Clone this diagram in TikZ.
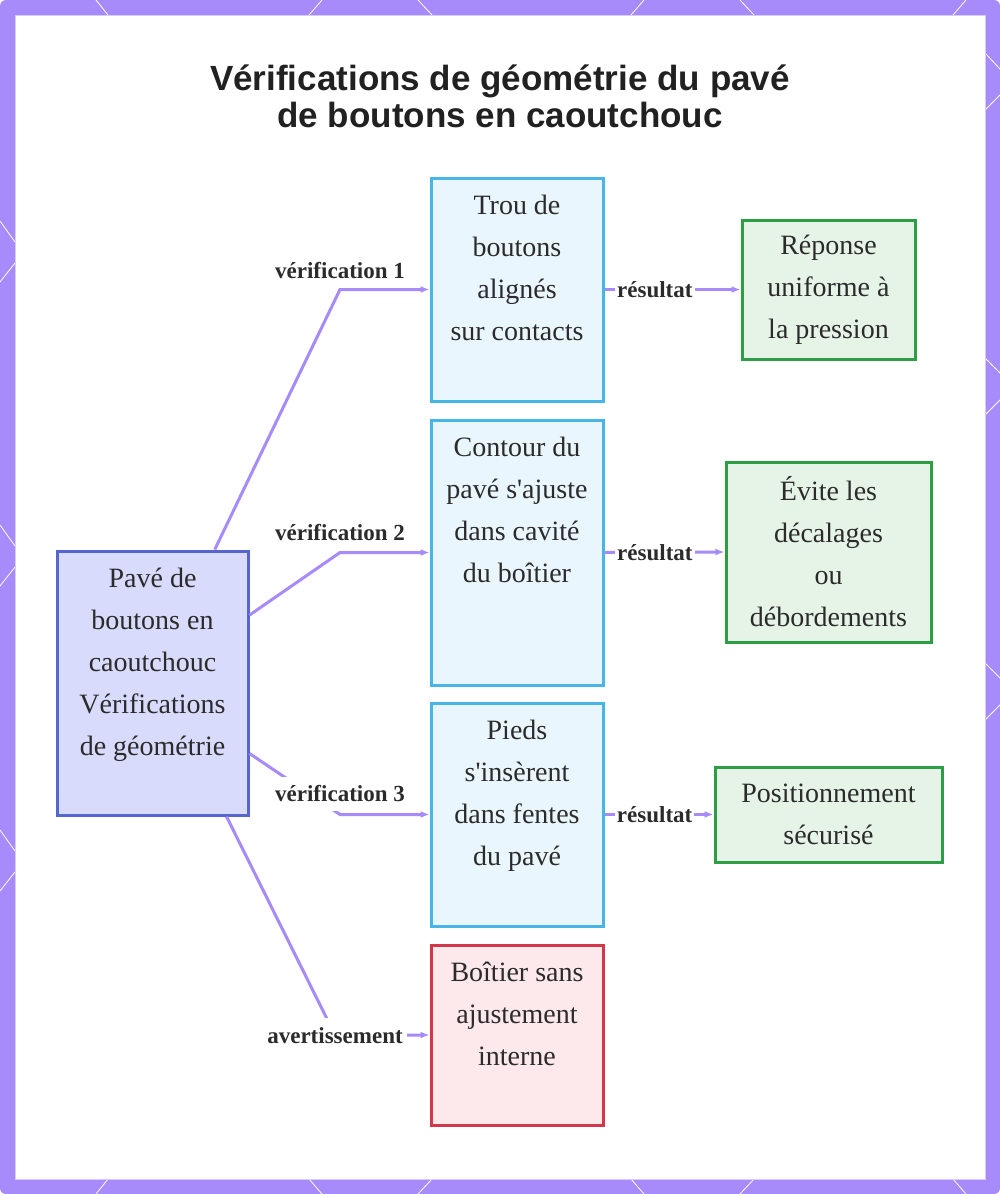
\documentclass[tikz,border=0pt]{standalone}
\usepackage{fontspec}
\setmainfont{Liberation Serif}
\newfontfamily\titlefont{Liberation Sans}
\usepackage{tikz}
\usetikzlibrary{arrows.meta,calc}

\definecolor{framepurple}{HTML}{A78BFA}
\definecolor{linkpurple}{HTML}{A78BFA}
\definecolor{rootfill}{HTML}{D8DBFB}
\definecolor{rootborder}{HTML}{5566CF}
\definecolor{chkfill}{HTML}{EAF6FD}
\definecolor{chkborder}{HTML}{47B6E6}
\definecolor{resfill}{HTML}{E6F4E7}
\definecolor{resborder}{HTML}{2E9E46}
\definecolor{warnfill}{HTML}{FDE8EC}
\definecolor{warnborder}{HTML}{D1394B}
\definecolor{inktext}{HTML}{2B2B2B}

\begin{document}
\begin{tikzpicture}[
  x=1pt, y=-1pt,
  font=\fontsize{28}{42}\selectfont,
  box/.style={draw, line width=3pt, align=center, inner sep=0pt, text=inktext},
  rootbox/.style={box, draw=rootborder, fill=rootfill},
  chkbox/.style={box, draw=chkborder, fill=chkfill, minimum width=172pt},
  resbox/.style={box, draw=resborder, fill=resfill},
  warnbox/.style={box, draw=warnborder, fill=warnfill, minimum width=172pt},
  lbl/.style={font=\fontsize{23}{26}\selectfont\bfseries, fill=white, inner sep=2pt, text=inktext},
  arr/.style={-{Latex[length=9pt,width=7pt]}, line width=3pt, draw=linkpurple},
  framemark/.style={white, line width=0.8pt}
]
\useasboundingbox (0,0) rectangle (1000,1194);
% frame
\fill[framepurple, rounded corners=6pt] (0,0) rectangle (1000,1194);
\foreach \x/\d in {96/12, 322/-13, 418/14, 644/-13, 740/14, 966/-13}{
  \draw[framemark] (\x,0) -- ++(\d,15);
  \draw[framemark] (\x,1194) -- ++(\d,-15);}
\foreach \y/\d in {221/21, 282/-19, 525/21, 586/-19, 830/21, 891/-19}{\draw[framemark] (0,\y) -- ++(15,\d);}
\foreach \y/\d in {53/16, 110/-15, 358/15, 415/-15, 663/15, 720/-15}{\draw[framemark] (985,\y) -- ++(15,\d);}
\fill[white] (15,15) rectangle (985,1179);
\draw[framepurple!45, line width=1pt] (15,15) rectangle (985,1179);

\node[font=\titlefont\bfseries\fontsize{35}{37}\selectfont, align=center, text=black!87] (title) at (500,96)
  {Vérifications de géométrie du pavé\\de boutons en caoutchouc};

% boxes
\node[rootbox, minimum width=191pt, minimum height=264pt] (root) at (152.5,683)
  {Pavé de\\boutons en\\caoutchouc\\Vérifications\\de géométrie\\[-12pt]\strut};
\node[chkbox, minimum height=223pt] (chk1) at (517,289.5) {Trou de\\boutons\\alignés\\sur contacts\\[-12pt]\strut};
\node[chkbox, minimum height=265pt] (chk2) at (517,552.5)
  {Contour du\\pavé s\textquotesingle ajuste\\dans cavité\\du boîtier\\\strut\\[-12pt]\strut};
\node[chkbox, minimum height=223pt] (chk3) at (517,814.5) {Pieds\\s\textquotesingle insèrent\\dans fentes\\du pavé\\[-12pt]\strut};
\node[warnbox, minimum height=180pt] (warn) at (517,1035) {Boîtier sans\\ajustement\\interne\\[-12pt]\strut};
\node[resbox, minimum width=173pt, minimum height=139pt] (res1) at (828.5,289.5) {Réponse\\uniforme à\\la pression};
\node[resbox, minimum width=205pt, minimum height=180pt] (res2) at (828.5,552) {Évite les\\décalages\\ou\\débordements};
\node[resbox, minimum width=227pt, minimum height=95pt] (res3) at (828.5,814.5) {Positionnement\\sécurisé};

% checks out of the keypad
\coordinate (k1) at (340,289.5);
\coordinate (k2) at (340,552.5);
\coordinate (k3) at (340,814.5);
\coordinate (k4) at (335,1035);
\draw[arr] (root.65) -- (k1) -- (chk1.west);
\draw[arr] (root.35) -- (k2) -- (chk2.west);
\draw[arr] (root.-36) -- (k3) -- (chk3.west);
\draw[arr] (root.-61) -- (k4) -- (warn.west);
\node[lbl] (v1) at (340,271) {vérification 1};
\node[lbl] (v2) at (340,533) {vérification 2};
\node[lbl, inner xsep=12pt, inner ysep=9pt] (v3) at (340,794) {vérification 3};
\node[lbl, inner xsep=4pt, inner ysep=10pt] (av) at (335,1036) {avertissement};

% results
\draw[arr] (chk1.east) -- node[lbl, pos=.37]{résultat} (res1.west);
\draw[arr] (chk2.east) -- node[lbl, pos=.42]{résultat} (res2.west);
\draw[arr] (chk3.east) -- node[lbl, pos=.46]{résultat} (res3.west);
\end{tikzpicture}
\end{document}
